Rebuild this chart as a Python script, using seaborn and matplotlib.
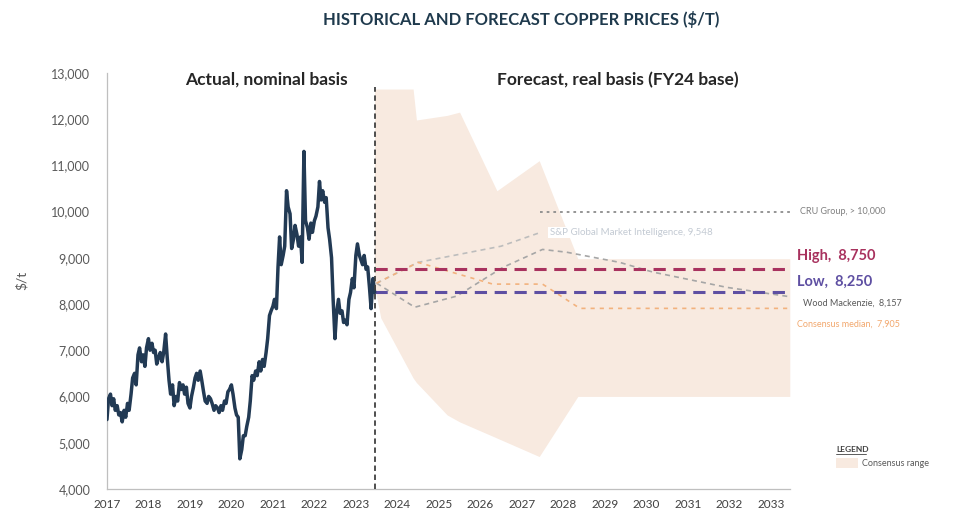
import matplotlib
matplotlib.use("Agg")
import matplotlib.pyplot as plt
import matplotlib.patches as mpatches
import seaborn as sns
import pandas as pd

# actual copper price, nominal $/t, semi-monthly (1st and 15th)
price_2017 = [5500, 5950, 6050, 5800, 5950, 5700, 5800, 5600, 5650, 5450, 5700, 5550,
              5850, 5700, 6050, 6400, 6500, 6250, 6900, 7050, 6750, 6900, 6650, 7050]
price_2018 = [7250, 7000, 7150, 6950, 7000, 6700, 6850, 6950, 6750, 6950, 7350, 6850,
              6350, 6050, 6250, 5800, 6000, 5900, 6300, 6150, 6250, 6050, 6200, 5850]
price_2019 = [5750, 6000, 6200, 6400, 6500, 6350, 6550, 6350, 6100, 5900, 5850, 6000,
              5950, 5850, 5700, 5800, 5750, 5650, 5800, 5700, 5900, 5850, 6100, 6150]
price_2020 = [6250, 6050, 5750, 5600, 5550, 4650, 4850, 5150, 5150, 5350, 5550, 5900,
              6450, 6350, 6550, 6450, 6750, 6550, 6800, 6650, 6950, 7250, 7750, 7850]
price_2021 = [7950, 8100, 7900, 8800, 9450, 8850, 9050, 9250, 10450, 10100, 9950, 9200,
              9400, 9700, 9500, 9250, 9450, 8900, 11300, 9800, 9650, 9400, 9750, 9550]
price_2022 = [9800, 9900, 10100, 10650, 10250, 10450, 10200, 10300, 9650, 9400, 9000, 8100,
              7250, 7800, 8100, 7800, 7850, 7600, 7650, 7550, 8100, 8250, 8550, 8350]
price_2023 = [9050, 9300, 9050, 8950, 8850, 9050, 8750, 8800, 8350, 7900, 8550, 8250]

forecast_start = 2023.45

# consensus range (shaded band)
range_years = [2023.45, 2023.6, 2024.38, 2024.46, 2025.2, 2025.5, 2026.4, 2027.42, 2028.35, 2033.46]
range_high = [12650, 12650, 12650, 11980, 12080, 12150, 10450, 11100, 8980, 8980]
range_low = [8400, 7700, 6400, 6300, 5600, 5450, 5100, 4700, 6000, 6000]

# forecaster paths
cru_years = [2027.45, 2033.46]
cru_vals = [10000, 10000]
sp_years = [2023.5, 2024.5, 2026.5, 2027.45]
sp_vals = [8450, 8900, 9250, 9548]
wm_years = [2023.5, 2024.42, 2025.43, 2026.54, 2027.5, 2028.08, 2029.36, 2030.16, 2031.94, 2033.46]
wm_vals = [8450, 7930, 8170, 8790, 9180, 9120, 8900, 8690, 8360, 8157]
median_years = [2023.5, 2024.5, 2026.3, 2027.5, 2028.4, 2033.46]
median_vals = [8450, 8900, 8430, 8430, 7905, 7905]
high_val = 8750
low_val = 8250

year_ticks = list(range(2017, 2034))

sns.set_style("white")
plt.rcParams['font.family'] = ['Lato', 'DejaVu Sans']

prices = price_2017 + price_2018 + price_2019 + price_2020 + price_2021 + price_2022 + price_2023
dates = pd.date_range("2017-01-01", periods=len(prices), freq="SMS")
dec_year = dates.year + (dates.dayofyear - 1) / 365.0
actual = pd.DataFrame({"year": dec_year, "price": prices})

fig = plt.figure(figsize=(9.55, 5.13), dpi=100)
ax = fig.add_axes([0.112, 0.047, 0.715, 0.811])

peach = "#F8EAE0"
ax.fill_between(range_years, range_low, range_high, color=peach, lw=0, zorder=1)

sns.lineplot(data=actual, x="year", y="price", ax=ax, color="#223A54", lw=2.5, zorder=5)

ax.plot(cru_years, cru_vals, color="#8C8C8C", lw=1.3, dashes=(1.5, 2.2), zorder=3)
ax.plot(sp_years, sp_vals, color="#BDBDBD", lw=1.2, dashes=(3, 2.5), zorder=3)
ax.plot(wm_years, wm_vals, color="#A6A6A6", lw=1.2, dashes=(3, 2.5), zorder=3)
ax.plot(median_years, median_vals, color="#F2B27E", lw=1.2, dashes=(2.5, 3), zorder=3)

ax.plot([forecast_start, 2033.46], [high_val, high_val], color="#A8325E", lw=2.2, dashes=(4, 2.5), zorder=4)
ax.plot([forecast_start, 2033.46], [low_val, low_val], color="#5E4FA2", lw=2.2, dashes=(4, 2.5), zorder=4)

ax.plot([forecast_start, forecast_start], [4000, 12700], color="#404040", lw=1.3, dashes=(3, 2), zorder=6)

ax.set_xlim(2017, 2033.46)
ax.set_ylim(4000, 13000)
ax.set_xticks(year_ticks)
ax.set_xticklabels([str(y) for y in year_ticks], fontsize=8.5, color="#404040")
ax.set_yticks(range(4000, 13001, 1000))
ax.set_yticklabels(["{:,}".format(v) for v in range(4000, 13001, 1000)], fontsize=9, color="#595959")
ax.tick_params(axis="both", direction="out", length=4, width=0.8, color="#BFBFBF")
ax.tick_params(axis="y", pad=8)
ax.set_xlabel("")
ax.set_ylabel("")
sns.despine(ax=ax)
for s in ["left", "bottom"]:
    ax.spines[s].set_color("#BFBFBF")
    ax.spines[s].set_linewidth(0.9)

fig.text(22 / 955, 1 - 280 / 513, "$/t", rotation=90, ha="center", va="center", fontsize=10, color="#595959")
fig.text(521 / 955, 1 - 20 / 513, "HISTORICAL AND FORECAST COPPER PRICES ($/T)", ha="center", va="center",
         fontsize=12, fontweight="bold", color="#1F3A4D")
fig.text(266 / 955, 1 - 80 / 513, "Actual, nominal basis", ha="center", va="center",
         fontsize=12.5, fontweight="bold", color="#262626")
fig.text(618 / 955, 1 - 80 / 513, "Forecast, real basis (FY24 base)", ha="center", va="center",
         fontsize=12.5, fontweight="bold", color="#262626")

ax.text(2033.7, 10000, "CRU Group, > 10,000", fontsize=6.5, color="#7F7F7F", va="center", clip_on=False)
ax.text(2027.67, 9548, "S&P Global Market Intelligence, 9,548", fontsize=7, color="#C3CAD3", va="center",
        bbox=dict(facecolor="white", edgecolor="none", pad=1), zorder=4)
ax.text(2033.63, 9030, "High,  8,750", fontsize=10.5, fontweight="bold", color="#A8325E", va="center", clip_on=False)
ax.text(2033.63, 8490, "Low,  8,250", fontsize=10.5, fontweight="bold", color="#5E4FA2", va="center", clip_on=False)
ax.text(2033.77, 8020, "Wood Mackenzie,  8,157", fontsize=6.5, color="#595959", va="center", clip_on=False)
ax.text(2033.63, 7560, "Consensus median,  7,905", fontsize=6.5, color="#F2A86E", va="center", clip_on=False)

# legend box
fig.text(836 / 955, 1 - 449 / 513, "LEGEND", fontsize=6, fontweight="bold", color="#404040",
         va="center", ha="left")
fig.add_artist(plt.Line2D([836 / 955, 866 / 955], [1 - 454 / 513, 1 - 454 / 513], color="#404040", lw=0.6))
fig.patches.append(mpatches.Rectangle((836 / 955, 1 - 468 / 513), 22 / 955, 10 / 513,
                                      transform=fig.transFigure, facecolor=peach, edgecolor="none"))
fig.text(862 / 955, 1 - 463 / 513, "Consensus range", fontsize=6.5, color="#595959", va="center", ha="left")

fig.savefig("out.png", dpi=100)
